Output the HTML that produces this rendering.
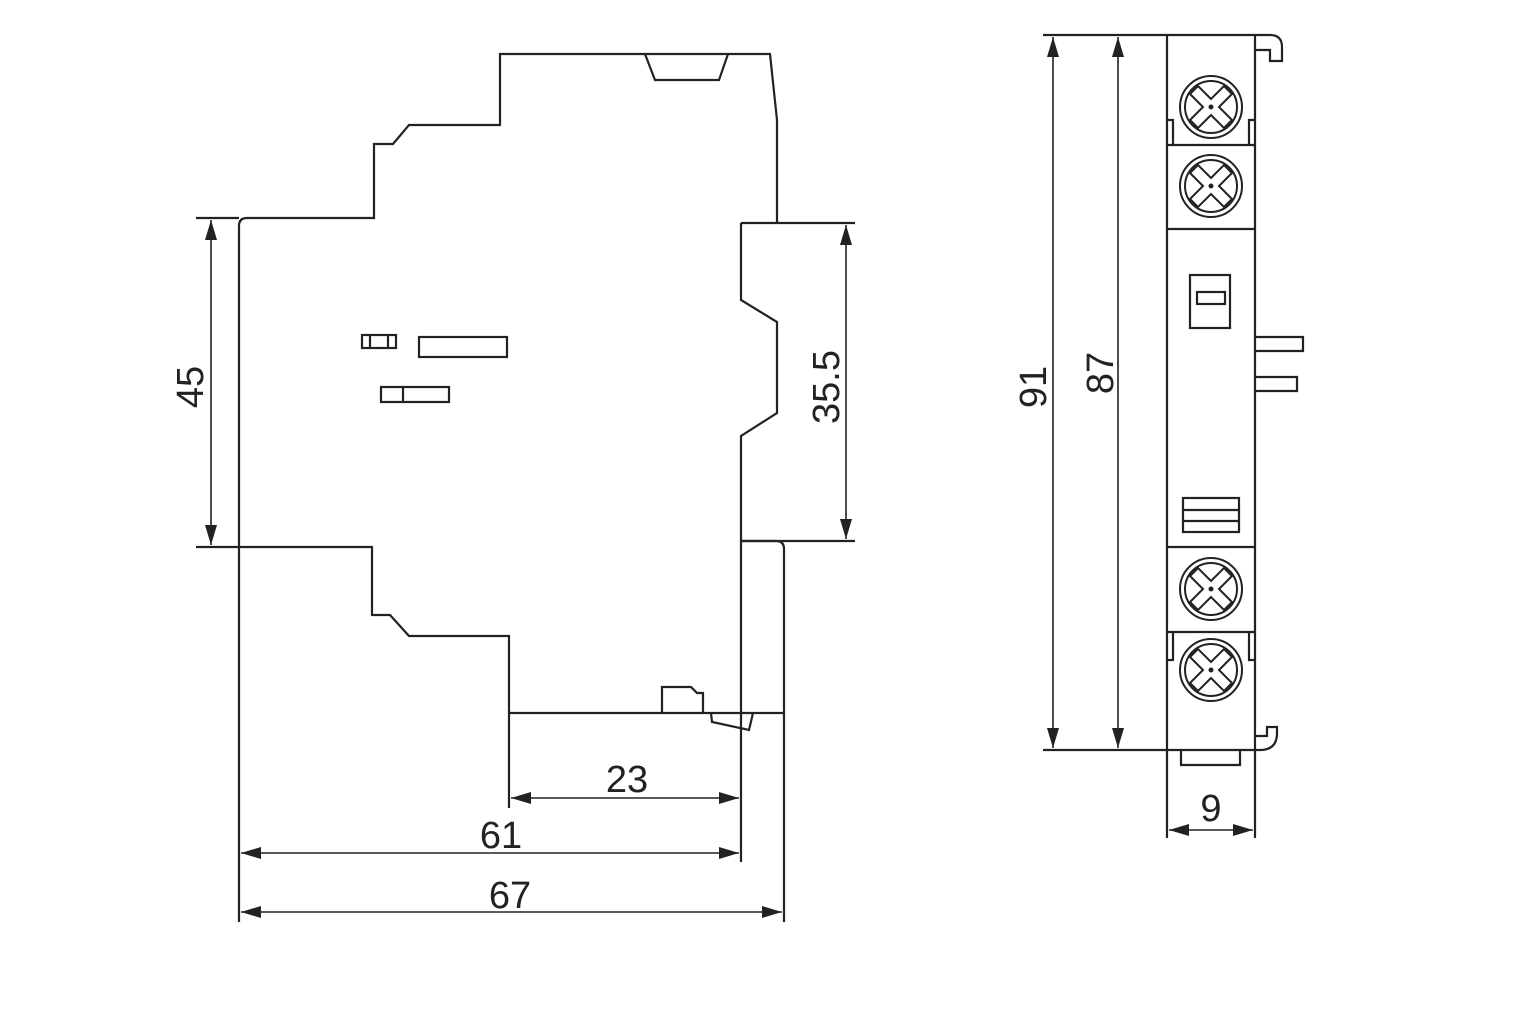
<!DOCTYPE html>
<html><head><meta charset="utf-8"><style>
html,body{margin:0;padding:0;background:#fff;width:1536px;height:1024px;overflow:hidden}
svg{display:block}
text{font-family:"Liberation Sans",sans-serif;font-size:38px;fill:#222}
</style></head><body>
<svg width="1536" height="1024" viewBox="0 0 1536 1024" xmlns="http://www.w3.org/2000/svg">
<defs>
<marker id="a" viewBox="0 0 20 12" refX="20" refY="6" markerWidth="20" markerHeight="12" markerUnits="userSpaceOnUse" orient="auto-start-reverse"><path d="M0,0 L20,6 L0,12 Z" fill="#222"/></marker>
<g id="s">
<circle cx="0" cy="0" r="31"/><circle cx="0" cy="0" r="26"/>
<path d="M-21,-13 L-8,0 L-21,13 L-13,21 L0,8 L13,21 L21,13 L8,0 L21,-13 L13,-21 L0,-8 L-13,-21 Z"/>
<circle cx="0" cy="0" r="1.5" fill="#222"/>
</g>
</defs>
<g fill="none" stroke="#222" stroke-width="2.2" stroke-linejoin="miter">
<path d="M239,922 V226 Q239,218 247,218 H374 V144 H393 L409,125 H500 V54 H770 L777,120 V223"/>
<path d="M645,54 L655,80 H719 L728,54"/>
<path d="M741,223 H855"/>
<path d="M741,223 V300 L777,322 V413 L741,436 V541 H776 Q784,541 784,549 V922"/>
<path d="M741,541 H855"/>
<path d="M239,547 H372 V615 H390 L409,636 H509 V808"/>
<path d="M509,713 H784"/>
<path d="M741,541 V862"/>
<path d="M662,713 V687 H691 L697,693 H703 V713"/>
<path d="M711,713 L712,722 L749,730 L753,713"/>
<rect x="362" y="335" width="34" height="13"/>
<line x1="370" y1="335" x2="370" y2="348"/><line x1="388" y1="335" x2="388" y2="348"/>
<rect x="419" y="337" width="88" height="20"/>
<rect x="381" y="387" width="68" height="15"/>
<line x1="403" y1="387" x2="403" y2="402"/>
<path d="M196,218 H239 M196,547 H239"/>
</g>
<g stroke="#222" stroke-width="1.6" fill="none">
<line x1="211" y1="220" x2="211" y2="545" marker-start="url(#a)" marker-end="url(#a)"/>
<line x1="846" y1="225" x2="846" y2="539" marker-start="url(#a)" marker-end="url(#a)"/>
<line x1="511" y1="798" x2="739" y2="798" marker-start="url(#a)" marker-end="url(#a)"/>
<line x1="241" y1="853" x2="739" y2="853" marker-start="url(#a)" marker-end="url(#a)"/>
<line x1="241" y1="912" x2="782" y2="912" marker-start="url(#a)" marker-end="url(#a)"/>
<line x1="1053" y1="37" x2="1053" y2="748" marker-start="url(#a)" marker-end="url(#a)"/>
<line x1="1118" y1="37" x2="1118" y2="748" marker-start="url(#a)" marker-end="url(#a)"/>
<line x1="1169" y1="830" x2="1253" y2="830" marker-start="url(#a)" marker-end="url(#a)"/>
</g>
<text x="190" y="387" text-anchor="middle" transform="rotate(-90 190 387)" dy="13">45</text>
<text x="826" y="387" text-anchor="middle" transform="rotate(-90 826 387)" dy="13">35.5</text>
<text x="627" y="792" text-anchor="middle">23</text>
<text x="501" y="848" text-anchor="middle">61</text>
<text x="510" y="908" text-anchor="middle">67</text>
<text x="1033" y="387" text-anchor="middle" transform="rotate(-90 1033 387)" dy="13">91</text>
<text x="1100" y="373" text-anchor="middle" transform="rotate(-90 1100 373)" dy="13">87</text>
<text x="1211" y="821" text-anchor="middle">9</text>
<g fill="none" stroke="#222" stroke-width="2.2">
<path d="M1043,35 H1270 Q1282,35 1282,47 V61 H1270 V50 H1255"/>
<path d="M1043,750 H1260 Q1277,750 1277,733 V727 H1267 V736 H1255"/>
<line x1="1167" y1="35" x2="1167" y2="838"/>
<line x1="1255" y1="35" x2="1255" y2="838"/>
<line x1="1167" y1="145" x2="1255" y2="145"/>
<line x1="1167" y1="229" x2="1255" y2="229"/>
<line x1="1167" y1="547" x2="1255" y2="547"/>
<line x1="1167" y1="632" x2="1255" y2="632"/>
<path d="M1167,120 H1173 V145 M1255,120 H1249 V145"/>
<path d="M1167,660 H1173 V632 M1255,660 H1249 V632"/>
<rect x="1190" y="275" width="40" height="53"/>
<rect x="1197" y="292" width="28" height="12"/>
<path d="M1255,337 H1303 V351 H1255 M1255,377 H1297 V391 H1255"/>
<rect x="1183" y="498" width="56" height="34"/>
<line x1="1183" y1="510" x2="1239" y2="510"/><line x1="1183" y1="521" x2="1239" y2="521"/>
<path d="M1181,750 V765 H1240 V750"/>
</g>
<g fill="none" stroke="#222" stroke-width="2">
<use href="#s" transform="translate(1211,107)"/>
<use href="#s" transform="translate(1211,186)"/>
<use href="#s" transform="translate(1211,589)"/>
<use href="#s" transform="translate(1211,670)"/>
</g>
</svg>
</body></html>
